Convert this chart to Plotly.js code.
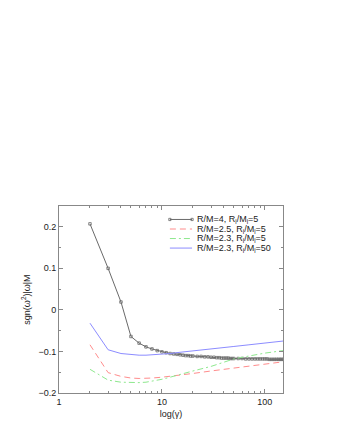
<!DOCTYPE html>
<html>
<head>
<meta charset="utf-8">
<script src="https://cdn.plot.ly/plotly-3.0.1.min.js"></script>
<style>
  body { margin: 0; background: #fff; }
  #chart { width: 342px; height: 443px; }
</style>
</head>
<body>
<div id="chart"></div>
<script>
// black curve, R/M=4 (sampled densely, markers pile up on the right)
const gamma_black = [2,3,4,5,6,7,8,9,10,11,12,13,14,15,16,17,18,19,20,
  22,24,26,28,30,32,34,36,38,40,42,44,46,48,50,
  55,60,65,70,75,80,85,90,95,100,105,110,115,120,125,130,135,140,145,150]
const omega_black = [0.207,0.100,0.019,-0.064,-0.080,-0.089,-0.094,-0.098,-0.101,-0.103,-0.105,-0.106,-0.107,-0.108,-0.109,-0.110,-0.110,-0.111,-0.111,
  -0.112,-0.112,-0.113,-0.113,-0.114,-0.114,-0.115,-0.115,-0.116,-0.116,-0.116,-0.116,-0.117,-0.117,-0.117,
  -0.117,-0.117,-0.118,-0.118,-0.118,-0.118,-0.118,-0.118,-0.118,-0.118,-0.118,-0.119,-0.119,-0.119,-0.119,-0.119,-0.119,-0.119,-0.119,-0.119]

// the three other runs
const gamma = [2,3,4,5,6,7,8,10,12,15,20,30,40,50,70,100,150]
const omega_red = [-0.084,-0.151,-0.160,-0.164,-0.165,-0.165,-0.164,-0.162,-0.160,-0.157,-0.153,-0.147,-0.143,-0.140,-0.135,-0.130,-0.125]
const omega_green = [-0.143,-0.169,-0.174,-0.175,-0.175,-0.174,-0.172,-0.167,-0.162,-0.155,-0.147,-0.136,-0.125,-0.118,-0.111,-0.104,-0.098]
const omega_blue = [-0.032,-0.096,-0.105,-0.108,-0.109,-0.109,-0.108,-0.107,-0.105,-0.102,-0.099,-0.094,-0.091,-0.088,-0.084,-0.080,-0.075]

const names = ['R/M=4, R<sub>i</sub>/M<sub>i</sub>=5', 'R/M=2.5, R<sub>i</sub>/M<sub>i</sub>=5',
  'R/M=2.3, R<sub>i</sub>/M<sub>i</sub>=5', 'R/M=2.3, R<sub>i</sub>/M<sub>i</sub>=50']
const colors = ['#6a6a6a', '#ff8c8c', '#8ee88e', '#8c8cff']
const dashes = ['solid', '6px,4px', '6px,3px,2px,3px', 'solid']

const ytickvals = [-0.2,-0.1,0,0.1,0.2]
const yticktext = ['\u22120.2','\u22120.1','0','0.1','0.2']
const xtickvals = [1,10,100]
const xticktext = ['1','10','100']

let traces = [
	{
		x:gamma_black, y:omega_black, mode:'lines+markers',
		line:{color:colors[0], width:1},
		marker:{symbol:'square-open', size:2.5, color:colors[0], line:{width:0.8}}
	},
	{ x:gamma, y:omega_red, mode:'lines', line:{color:colors[1], width:1, dash:dashes[1]} },
	{ x:gamma, y:omega_green, mode:'lines', line:{color:colors[2], width:1, dash:dashes[2]} },
	{ x:gamma, y:omega_blue, mode:'lines', line:{color:colors[3], width:1} }
]

// compact gnuplot-style key: plotly's legend rows are too tall, so build it by hand
const keyY = [0.928, 0.877, 0.826, 0.775]
let shapes = []
let annotations = []
for(i=0;i<names.length;i++){
	shapes.push({type:'line', xref:'paper', yref:'paper', x0:0.495, x1:0.594, y0:keyY[i], y1:keyY[i],
		line:{color:colors[i], width:1, dash:dashes[i]}})
	annotations.push({xref:'paper', yref:'paper', x:0.607, y:keyY[i], xanchor:'left', yanchor:'middle',
		text:names[i], showarrow:false, font:{size:9, color:'#222'}})
}
// end markers of the black key sample
for(px of [0.495, 0.594]){
	shapes.push({type:'rect', xref:'paper', yref:'paper', x0:px-0.005, x1:px+0.005,
		y0:keyY[0]-0.006, y1:keyY[0]+0.006, line:{color:colors[0], width:0.8}})
}

let axisStyle = {
	showline:true, linecolor:'#888', linewidth:1, mirror:'allticks',
	ticks:'inside', ticklen:4, tickcolor:'#888', showgrid:false, zeroline:false,
	tickfont:{size:9, color:'#222'}
}

Plotly.newPlot('chart', traces, {
	width:342, height:443,
	margin:{l:59, r:59, t:206, b:50},
	paper_bgcolor:'#fff', plot_bgcolor:'#fff',
	font:{family:'Liberation Sans, Arial, sans-serif', size:9, color:'#222'},
	showlegend:false,
	shapes:shapes,
	annotations:annotations,
	xaxis:Object.assign({}, axisStyle, {
		type:'log', range:[0, Math.log10(150)],
		tickvals:xtickvals, ticktext:xticktext,
		minor:{ticks:'inside', ticklen:2, tickcolor:'#888', dtick:'D1'},
		title:{text:'log(\u03b3)', font:{size:9}, standoff:4}
	}),
	yaxis:Object.assign({}, axisStyle, {
		range:[-0.2, 0.25],
		tickvals:ytickvals, ticktext:yticktext,
		minor:{ticks:'inside', ticklen:2, tickcolor:'#888', dtick:0.05},
		title:{text:'sgn(\u03c9<sup>2</sup>)|\u03c9|M', font:{size:9}, standoff:6}
	})
}, {staticPlot:true})
</script>
</body>
</html>
